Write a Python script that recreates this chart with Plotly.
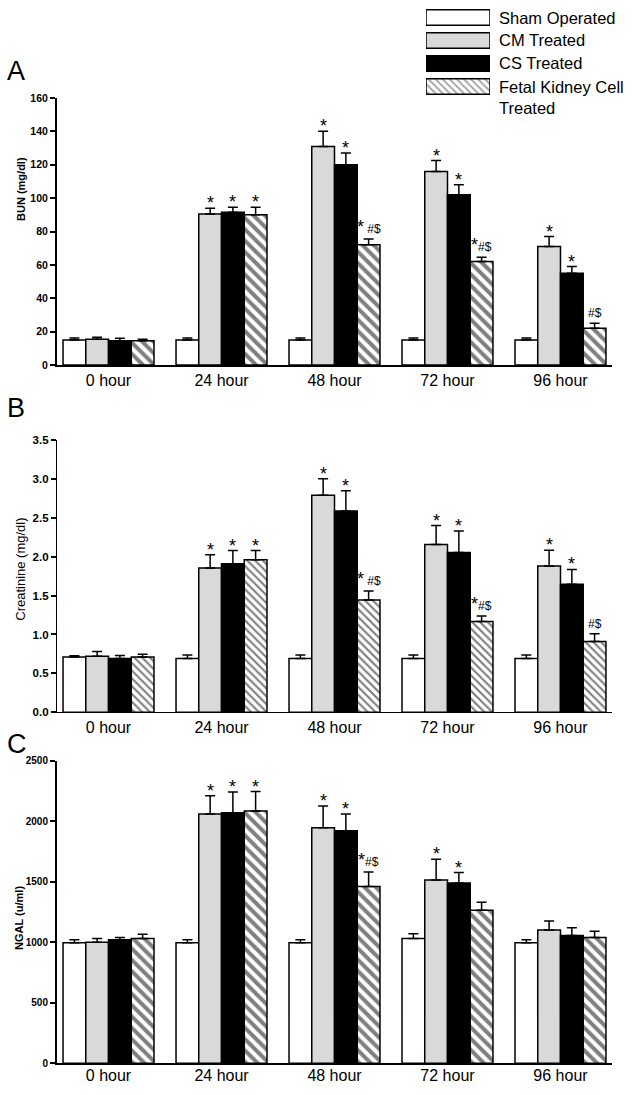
import plotly.graph_objects as go

# ---------------- data ----------------
hours = ["0 hour", "24 hour", "48 hour", "72 hour", "96 hour"]
series = ["Sham Operated", "CM Treated", "CS Treated", "Fetal Kidney Cell Treated"]
legend_labels = ["Sham Operated", "CM Treated", "CS Treated", "Fetal Kidney Cell<br>Treated"]

# Panel A: BUN (mg/dl)
bun_sham = [15, 15, 15, 15, 15]
bun_sham_err = [1.2, 1.2, 1.2, 1.2, 1.2]
bun_cm = [15.5, 90.5, 131, 116, 71]
bun_cm_err = [1.2, 3.5, 9, 6.5, 6]
bun_cs = [14.5, 91.5, 120, 102, 55]
bun_cs_err = [1.5, 3, 7, 6, 4]
bun_fk = [14.5, 90, 72, 62, 22]
bun_fk_err = [1, 4.5, 3.5, 2.5, 3]
bun_sig_cm = ["", "*", "*", "*", "*"]
bun_sig_cs = ["", "*", "*", "*", "*"]
bun_sig_fk = ["", "*", "* #$", "*#$", "#$"]

# Panel B: Creatinine (mg/dl)
cr_sham = [0.71, 0.69, 0.69, 0.69, 0.69]
cr_sham_err = [0.015, 0.045, 0.045, 0.045, 0.045]
cr_cm = [0.72, 1.855, 2.79, 2.157, 1.88]
cr_cm_err = [0.06, 0.17, 0.215, 0.245, 0.205]
cr_cs = [0.69, 1.91, 2.59, 2.056, 1.646]
cr_cs_err = [0.04, 0.17, 0.26, 0.275, 0.19]
cr_fk = [0.71, 1.96, 1.445, 1.168, 0.909]
cr_fk_err = [0.035, 0.12, 0.115, 0.07, 0.10]
cr_sig_cm = ["", "*", "*", "*", "*"]
cr_sig_cs = ["", "*", "*", "*", "*"]
cr_sig_fk = ["", "*", "* #$", "*#$", "#$"]

# Panel C: NGAL (u/ml)
ng_sham = [995, 995, 995, 1030, 995]
ng_sham_err = [25, 25, 25, 40, 25]
ng_cm = [1000, 2060, 1945, 1515, 1100]
ng_cm_err = [30, 150, 180, 170, 75]
ng_cs = [1020, 2070, 1920, 1490, 1055]
ng_cs_err = [20, 170, 140, 85, 65]
ng_fk = [1030, 2085, 1460, 1265, 1040]
ng_fk_err = [35, 160, 120, 65, 50]
ng_sig_cm = ["", "*", "*", "*", ""]
ng_sig_cs = ["", "*", "*", "*", ""]
ng_sig_fk = ["", "*", "*#$", "", ""]

# ---------------- styling ----------------
W, H = 632, 1095
ML, MR = 57, 20
PW = W - ML - MR
FONT = "Liberation Sans, Arial, sans-serif"
colors = ["white", "#d9d9d9", "black", "white"]
BARGAP = 0.195
BW = (1 - BARGAP) / 4

def py(p):
    return 1 - p / H

def px(p):
    return (p - ML) / PW

panels = [
    dict(vals=[bun_sham, bun_cm, bun_cs, bun_fk],
         errs=[bun_sham_err, bun_cm_err, bun_cs_err, bun_fk_err],
         sig=[None, bun_sig_cm, bun_sig_cs, bun_sig_fk],
         title="BUN (mg/dl)", tweight="bold", tsize=11, ticksize=10.5, tfmt="d",
         rng=[0, 160], dtick=20, dom=[py(363), py(93)], lw=2, stand=0,
         pat=dict(size=8, solidity=0.5), letter="A", ly=66, tx=21, ty=185),
    dict(vals=[cr_sham, cr_cm, cr_cs, cr_fk],
         errs=[cr_sham_err, cr_cm_err, cr_cs_err, cr_fk_err],
         sig=[None, cr_sig_cm, cr_sig_cs, cr_sig_fk],
         title="Creatinine (mg/dl)", tweight="normal", tsize=13, ticksize=11.5, tfmt=".1f",
         rng=[0, 3.5], dtick=0.5, dom=[py(714), py(439)], lw=1.3, stand=0,
         pat=dict(size=5.5, solidity=0.4), letter="B", ly=406, tx=21, ty=570),
    dict(vals=[ng_sham, ng_cm, ng_cs, ng_fk],
         errs=[ng_sham_err, ng_cm_err, ng_cs_err, ng_fk_err],
         sig=[None, ng_sig_cm, ng_sig_cs, ng_sig_fk],
         title="NGAL (u/ml)", tweight="bold", tsize=11, ticksize=10, tfmt="d",
         rng=[0, 2500], dtick=500, dom=[py(1069), py(763)], lw=2, stand=-3,
         pat=dict(size=8, solidity=0.5), letter="C", ly=746, tx=19, ty=922),
]

fig = go.Figure()
annotations = []
xs = list(range(len(hours)))

def fmt(s):
    if s.startswith("*"):
        rest = s[1:]
        return "*" + ("<span style='font-size:12px'>" + rest + "</span>" if rest else "")
    return s

for pi, p in enumerate(panels):
    sfx = "" if pi == 0 else str(pi + 1)
    xa, ya = "x" + sfx, "y" + sfx
    for si in range(4):
        marker = dict(color=colors[si], line=dict(color="black", width=1.5))
        if si == 3:
            marker["pattern"] = dict(shape="\\", fgcolor="black", bgcolor="white",
                                     size=p["pat"]["size"], solidity=p["pat"]["solidity"])
        fig.add_trace(go.Bar(
            x=xs, y=p["vals"][si], name=series[si], xaxis=xa, yaxis=ya,
            marker=marker, showlegend=False, hoverinfo="skip",
            error_y=dict(type="data", symmetric=False, array=p["errs"][si],
                         arrayminus=[0] * len(hours), color="black",
                         thickness=1.5, width=5),
        ))
        if p["sig"][si] is not None:
            for hi, s in enumerate(p["sig"][si]):
                if not s:
                    continue
                star = s.startswith("*")
                annotations.append(dict(
                    x=hi + (si - 1.5) * BW, y=p["vals"][si][hi] + p["errs"][si][hi],
                    xref=xa, yref=ya, text=fmt(s), showarrow=False,
                    xanchor="center", yanchor="bottom",
                    yshift=-7 if s == "*" else (0 if star else 1),
                    font=dict(family=FONT, size=18 if star else 12, color="black"),
                ))
    fig.update_layout(**{
        "xaxis" + sfx: dict(domain=[0, 1], range=[-0.456, 4.456], tickvals=xs,
                            ticktext=hours, showline=True, linewidth=p["lw"],
                            linecolor="black", ticks="", showgrid=False, zeroline=False,
                            tickfont=dict(family=FONT, size=16, color="black"),
                            ticklabelstandoff=p["stand"],
                            anchor=ya, fixedrange=True),
        "yaxis" + sfx: dict(domain=p["dom"], range=p["rng"], dtick=p["dtick"],
                            tickformat=p["tfmt"],
                            showline=True, linewidth=p["lw"], linecolor="black",
                            ticks="outside", ticklen=5, tickwidth=1.5, tickcolor="black",
                            showgrid=False, zeroline=False, anchor=xa,
                            tickfont=dict(family=FONT, size=p["ticksize"], color="black",
                                          weight="bold"),
                            fixedrange=True),
    })
    annotations.append(dict(x=px(5), y=py(p["ly"]), xref="paper", yref="paper",
                            text=p["letter"], showarrow=False, xanchor="left",
                            yanchor="middle", font=dict(family=FONT, size=27, color="black")))
    annotations.append(dict(x=px(p["tx"]), y=py(p["ty"]), xref="paper", yref="paper",
                            text=p["title"], showarrow=False, textangle=-90,
                            xanchor="center", yanchor="middle",
                            font=dict(family=FONT, size=p["tsize"], color="black",
                                      weight=p["tweight"])))

# legend drawn as a tiny bar chart of the series
fig.add_trace(go.Bar(
    x=[1] * len(series), y=series, orientation="h", xaxis="x4", yaxis="y4",
    width=0.68, showlegend=False, hoverinfo="skip",
    marker=dict(color=colors, line=dict(color="black", width=1.5),
                pattern=dict(shape=["", "", "", "\\"], fgcolor="black", size=5, solidity=0.35)),
))
fig.update_layout(
    xaxis4=dict(domain=[px(426), px(490)], range=[0, 1], visible=False, anchor="y4",
                fixedrange=True),
    yaxis4=dict(domain=[py(93), py(0)], type="category", categoryorder="array",
                categoryarray=series, range=[3.5, -0.5], visible=False, anchor="x4",
                fixedrange=True),
)
for si, lab in enumerate(legend_labels):
    multi = "<br>" in lab
    annotations.append(dict(x=px(497), y=series[si], xref="paper", yref="y4", text=lab,
                            showarrow=False, xanchor="left", align="left",
                            yanchor="top" if multi else "middle",
                            yshift=10.5 if multi else 0,
                            font=dict(family=FONT, size=16.5, color="black")))

fig.update_layout(
    width=W, height=H, margin=dict(l=ML, r=MR, t=0, b=0),
    paper_bgcolor="white", plot_bgcolor="white",
    barmode="group", bargap=BARGAP, bargroupgap=0,
    annotations=annotations, showlegend=False,
)

# the page's default 8px body margin would shift the figure; remove it
fig.write_html("out.html", config={"displayModeBar": False},
               post_script="document.body.style.margin='0px';")
